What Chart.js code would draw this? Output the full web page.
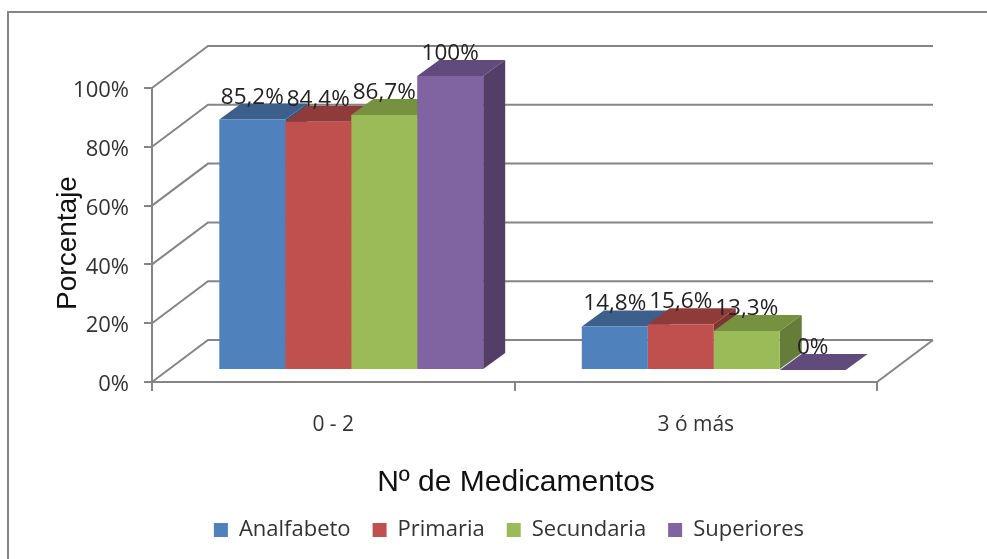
<!DOCTYPE html>
<html>
<head>
<meta charset="utf-8">
<script src="https://cdn.jsdelivr.net/npm/chart.js@4"></script>
<style>
  html, body { margin: 0; background: #fff; }
  canvas { display: block; filter: blur(0.6px); }
</style>
</head>
<body>
<canvas id="chart" width="987" height="559"></canvas>
<script>
const categories = ["0 - 2", "3 ó más"];
const seriesNames = ["Analfabeto", "Primaria", "Secundaria", "Superiores"];
const analfabeto = [85.2, 14.8];
const primaria = [84.4, 15.6];
const secundaria = [86.7, 13.3];
const superiores = [100, 0];
const seriesValues = [analfabeto, primaria, secundaria, superiores];
const frontColors = ["#4f81bd", "#c0504d", "#9bbb59", "#8064a2"];
const topColors = ["#3c5f8c", "#8f3b39", "#76913f", "#614a7c"];
const sideColors = ["#375779", "#7f3432", "#667d3a", "#523e66"];
const yTicks = [0, 20, 40, 60, 80, 100];

const lineGray = "#858585";
const textColor = "#222";
const tickFont = { family: "'Open Sans'", size: 22 };

// offset of the back wall, of the bars' front face, and depth of a bar
const wall = { dx: 56, dy: -42 };
const barShift = { dx: 18, dy: -12 };
const barDepth = { dx: 22, dy: -16 };

function fmt(v) {
    return String(v).replace(".", ",") + "%";
}

function poly(ctx, pts, color) {
    ctx.fillStyle = color;
    ctx.beginPath();
    pts.forEach((p, i) => (i ? ctx.lineTo(p[0], p[1]) : ctx.moveTo(p[0], p[1])));
    ctx.closePath();
    ctx.fill();
}

const frame3d = {
    id: "frame3d",
    afterLayout(chart) {
        // legend sits centred under the whole plot, not the canvas
        chart.legend.left = 31;
        chart.legend.right = 987;
        chart.legend.top = 497;
    },
    beforeDatasetsDraw(chart) {
        const { ctx, chartArea, scales } = chart;
        ctx.save();
        // chart border, only top and left are visible in the picture
        ctx.strokeStyle = "#858585";
        ctx.lineWidth = 2;
        ctx.beginPath();
        ctx.moveTo(8, 559);
        ctx.lineTo(8, 12);
        ctx.lineTo(987, 12);
        ctx.stroke();

        // back wall and side wall gridlines
        ctx.strokeStyle = lineGray;
        ctx.lineWidth = 2;
        yTicks.forEach((v) => {
            const y = scales.y.getPixelForValue(v);
            ctx.beginPath();
            ctx.moveTo(chartArea.left, y);
            ctx.lineTo(chartArea.left + wall.dx, y + wall.dy);
            ctx.lineTo(chartArea.right + wall.dx, y + wall.dy);
            ctx.stroke();
        });
        ctx.beginPath();
        ctx.moveTo(chartArea.right, chartArea.bottom);
        ctx.lineTo(chartArea.right + wall.dx, chartArea.bottom + wall.dy);
        ctx.stroke();

        // side and top faces, left to right so each bar covers the previous one
        categories.forEach((_, c) => {
            seriesValues.forEach((_, s) => {
                const bar = chart.getDatasetMeta(s).data[c];
                const half = bar.width / 2;
                const l = bar.x - half + barShift.dx;
                const r = bar.x + half + barShift.dx;
                const t = bar.y + barShift.dy;
                const b = bar.base + barShift.dy;
                poly(ctx, [[r, t], [r + barDepth.dx, t + barDepth.dy], [r + barDepth.dx, b + barDepth.dy], [r, b]], sideColors[s]);
                poly(ctx, [[l, t], [r, t], [r + barDepth.dx, t + barDepth.dy], [l + barDepth.dx, t + barDepth.dy]], topColors[s]);
            });
        });
        ctx.restore();

        // front faces are the library's own bars, moved onto their depth plane
        ctx.save();
        ctx.translate(barShift.dx, barShift.dy);
    },
    afterDatasetsDraw(chart) {
        const { ctx } = chart;
        ctx.restore();

        ctx.save();
        ctx.fillStyle = textColor;
        ctx.font = "22.5px 'Open Sans'";
        ctx.textAlign = "center";
        ctx.textBaseline = "alphabetic";
        categories.forEach((_, c) => {
            seriesValues.forEach((vals, s) => {
                const bar = chart.getDatasetMeta(s).data[c];
                ctx.fillText(fmt(vals[c]), bar.x + barShift.dx, bar.y + barShift.dy + barDepth.dy);
            });
        });

        // axis titles
        ctx.fillStyle = "#111";
        ctx.font = "30px 'Liberation Sans'";
        ctx.fillText("Nº de Medicamentos", 516, 491);
        ctx.font = "28px 'Liberation Sans'";
        ctx.translate(76, 243);
        ctx.rotate(-Math.PI / 2);
        ctx.fillText("Porcentaje", 0, 0);
        ctx.restore();
    },
};

new Chart(document.getElementById("chart"), {
    type: "bar",
    data: {
        labels: categories,
        datasets: seriesNames.map((name, i) => ({
            label: name,
            data: seriesValues[i],
            backgroundColor: frontColors[i],
            categoryPercentage: 0.728,
            barPercentage: 1,
            clip: false,
        })),
    },
    options: {
        responsive: false,
        animation: false,
        layout: { padding: { top: 88, right: 110 } },
        plugins: {
            tooltip: { enabled: false },
            title: { display: false },
            legend: {
                position: "bottom",
                labels: {
                    boxWidth: 14,
                    boxHeight: 14,
                    padding: 22,
                    color: "#333",
                    font: { family: "'Open Sans'", size: 22 },
                },
            },
        },
        scales: {
            x: {
                afterFit(scale) {
                    scale.height = 123;
                },
                border: { color: lineGray, width: 2 },
                grid: { drawOnChartArea: false, color: lineGray, lineWidth: 2, tickLength: 9 },
                ticks: { color: "#333", font: { family: "'Open Sans'", size: 21 }, padding: 21 },
            },
            y: {
                min: 0,
                max: 100,
                afterFit(scale) {
                    scale.width = 152;
                },
                border: { color: lineGray, width: 2 },
                grid: { drawOnChartArea: false, color: lineGray, lineWidth: 2, tickLength: 8 },
                ticks: {
                    stepSize: 20,
                    color: "#333",
                    font: tickFont,
                    padding: 15,
                    labelOffset: 3,
                    callback: (v) => v + "%",
                },
            },
        },
    },
    plugins: [frame3d],
});
</script>
</body>
</html>
